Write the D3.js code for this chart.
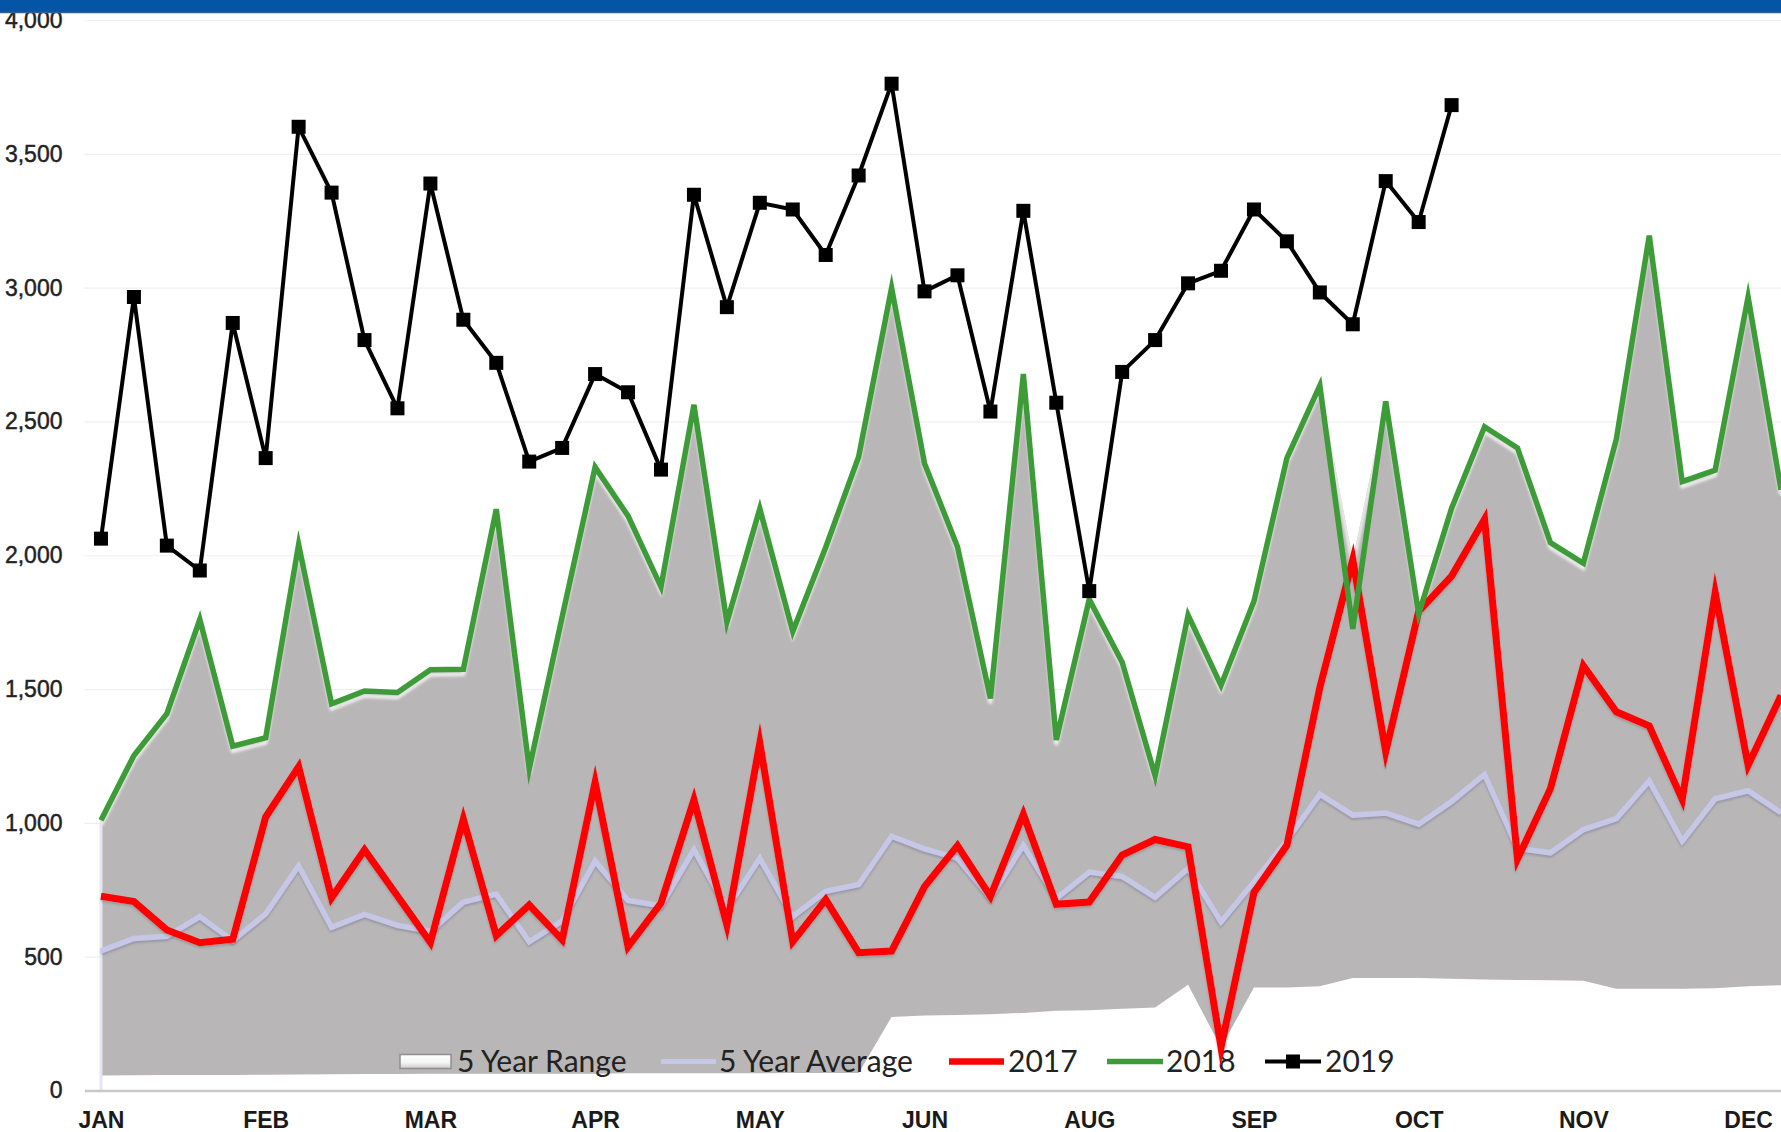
<!DOCTYPE html>
<html>
<head>
<meta charset="utf-8">
<script src="https://cdn.jsdelivr.net/npm/d3@7"></script>
<style>
  html, body { margin: 0; padding: 0; background: #ffffff; overflow: hidden; }
  svg { display: block; }
</style>
</head>
<body>
<script>
// ---------------- DATA ----------------
const weeks = d3.range(52);
const monthTickWeeks = [0, 5, 10, 15, 20, 25, 30, 35, 40, 45, 50];
const monthLabels = ["JAN", "FEB", "MAR", "APR", "MAY", "JUN", "AUG", "SEP", "OCT", "NOV", "DEC"];
const yTicks = [0, 500, 1000, 1500, 2000, 2500, 3000, 3500, 4000];

const rangeLow = [56, 57, 58, 58, 58, 59, 60, 61, 62, 62, 63, 63, 63, 63, 63, 63, 64, 64, 64, 64, 64, 65, 65, 65,
  275, 280, 282, 285, 290, 298, 300, 305, 310, 395, 161, 385, 385, 390, 420, 420, 420, 418, 415, 413, 412, 410,
  380, 380, 380, 382, 390, 393];
const rangeHigh = [1010, 1252, 1408, 1760, 1287, 1318, 2040, 1445, 1493, 1487, 1572, 1574, 2172, 1202, 1770, 2329,
  2147, 1882, 2562, 1750, 2174, 1715, 2030, 2368, 2999, 2343, 2032, 1465, 2677, 1310, 1835, 1600, 1176, 1776, 1514,
  1828, 2363, 2634, 1983, 2575, 1790, 2176, 2480, 2401, 2047, 1970, 2434, 3194, 2275, 2318, 2965, 2245];
const avg5 = [522, 568, 576, 650, 560, 660, 840, 610, 658, 617, 595, 704, 734, 556, 634, 857, 710, 690, 900, 680,
  868, 650, 744, 770, 950, 903, 868, 720, 916, 718, 816, 800, 722, 830, 630, 780, 935, 1107, 1029, 1037, 995, 1080,
  1181, 905, 888, 975, 1016, 1157, 932, 1090, 1120, 1038];
const y2017 = [726, 706, 600, 552, 565, 1022, 1209, 720, 899, 727, 553, 1014, 578, 693, 563, 1151, 537, 700, 1086,
  619, 1298, 556, 713, 515, 521, 762, 915, 725, 1032, 696, 704, 880, 938, 910, 161, 740, 916, 1506, 1983, 1266,
  1790, 1922, 2135, 865, 1128, 1587, 1415, 1362, 1088, 1860, 1215, 1476];
const y2018 = [1010, 1252, 1408, 1760, 1287, 1318, 2040, 1445, 1493, 1487, 1572, 1574, 2172, 1202, 1770, 2329,
  2147, 1882, 2562, 1750, 2174, 1715, 2030, 2368, 2999, 2343, 2032, 1465, 2677, 1310, 1835, 1600, 1176, 1776, 1514,
  1828, 2363, 2634, 1725, 2575, 1780, 2176, 2480, 2401, 2047, 1970, 2434, 3194, 2275, 2318, 2965, 2245];
const y2019 = [2062, 2965, 2036, 1943, 2868, 2363, 3601, 3355, 2804, 2549, 3389, 2880, 2719, 2350, 2401, 2677,
  2609, 2320, 3347, 2927, 3317, 3292, 3122, 3419, 3762, 2986, 3046, 2537, 3287, 2570, 1866, 2685, 2804, 3016, 3063,
  3292, 3173, 2982, 2863, 3398, 3245, 3682];
const legendLabels = ["5 Year Range", "5 Year Average", "2017", "2018", "2019"];

// ---------------- LAYOUT ----------------
const W = 1781, H = 1132;
const plotLeft = 84.5, plotRight = 1797.5, plotBottom = 1090.5, plotTop = 20;

const svg = d3.select("body").append("svg").attr("width", W).attr("height", H);
const defs = svg.append("defs");

const x = d3.scalePoint().domain(weeks).range([plotLeft, plotRight]).padding(0.5);
const y = d3.scaleLinear().domain([0, 4000]).range([plotBottom, plotTop]);

// filters
const blur = defs.append("filter").attr("id", "soft").attr("x", "-5%").attr("y", "-5%").attr("width", "110%").attr("height", "110%");
blur.append("feGaussianBlur").attr("stdDeviation", 1.6);
const shadow = defs.append("filter").attr("id", "lshadow").attr("x", "-5%").attr("y", "-20%").attr("width", "110%").attr("height", "140%");
shadow.append("feDropShadow").attr("dx", 0).attr("dy", 2).attr("stdDeviation", 1.2)
  .attr("flood-color", "#6e6e8a").attr("flood-opacity", 0.45);
const shadowDark = defs.append("filter").attr("id", "dshadow").attr("x", "-5%").attr("y", "-20%").attr("width", "110%").attr("height", "140%");
shadowDark.append("feDropShadow").attr("dx", 0).attr("dy", 2).attr("stdDeviation", 1.2)
  .attr("flood-color", "#555").attr("flood-opacity", 0.3);
const grad = defs.append("linearGradient").attr("id", "swg").attr("x1", 0).attr("y1", 0).attr("x2", 0).attr("y2", 1);
grad.append("stop").attr("offset", "0%").attr("stop-color", "#ffffff");
grad.append("stop").attr("offset", "60%").attr("stop-color", "#f4f4f4");
grad.append("stop").attr("offset", "100%").attr("stop-color", "#c9c9c9");

// gridlines
svg.append("g")
  .attr("transform", `translate(${plotLeft},0)`)
  .call(d3.axisLeft(y).tickValues(yTicks.filter(d => d > 0)).tickSize(-(plotRight - plotLeft)).tickFormat(""))
  .call(g => g.select(".domain").remove())
  .call(g => g.selectAll("line").attr("stroke", "#efefef").attr("stroke-width", 1.2));

// 5 year range band
const areaGen = d3.area().x(i => x(i)).y0(i => y(rangeLow[i])).y1(i => y(rangeHigh[i]));
defs.append("clipPath").attr("id", "bandClip").append("path").attr("d", areaGen(weeks));
svg.append("path").attr("d", areaGen(weeks)).attr("fill", "#b9b6b7");

// bevel-like highlight under the top edge
const topLine = d3.line().x(i => x(i)).y(i => y(rangeHigh[i]));
svg.append("g").attr("clip-path", "url(#bandClip)")
  .append("path").attr("d", topLine(weeks))
  .attr("transform", "translate(0,5)")
  .attr("fill", "none").attr("stroke", "#ffffff").attr("stroke-width", 3.5)
  .attr("opacity", 0.85).attr("filter", "url(#soft)");

// left edge of band
svg.append("line")
  .attr("x1", x(0)).attr("x2", x(0)).attr("y1", y(0)).attr("y2", y(rangeHigh[0]))
  .attr("stroke", "#e6e6f0").attr("stroke-width", 3);

// axes
const yAxis = svg.append("g")
  .attr("transform", `translate(${plotLeft},0)`)
  .call(d3.axisLeft(y).tickValues(yTicks).tickSize(0).tickPadding(22).tickFormat(d3.format(",")));
yAxis.select(".domain").remove();
yAxis.selectAll("text")
  .attr("font-family", "'Liberation Sans', Arial, sans-serif")
  .attr("font-size", 23).attr("fill", "#222")
  .attr("stroke", "#222").attr("stroke-width", 0.45);

const xAxis = svg.append("g")
  .attr("transform", `translate(0,${plotBottom})`)
  .call(d3.axisBottom(x).tickValues(monthTickWeeks).tickSize(0).tickPadding(21)
    .tickFormat(i => monthLabels[monthTickWeeks.indexOf(i)]));
xAxis.select(".domain").attr("stroke", "#c8c8c8").attr("stroke-width", 2.5);
xAxis.selectAll("text")
  .attr("font-family", "'Liberation Sans', Arial, sans-serif")
  .attr("font-weight", "bold")
  .attr("font-size", 23).attr("fill", "#1a1a1a");

// legend (drawn beneath the series lines)
const legendY = 1061.5;
const leg = svg.append("g").attr("font-family", "Lato, 'Open Sans', sans-serif").attr("font-size", 30).attr("fill", "#222");
const legendItems = [
  { sx: 400, ex: 451, tx: 457 },
  { sx: 661, ex: 716, tx: 719 },
  { sx: 949, ex: 1004, tx: 1008 },
  { sx: 1107, ex: 1163, tx: 1166 },
  { sx: 1265, ex: 1321, tx: 1325 }
];
// swatches
leg.append("rect").attr("x", legendItems[0].sx).attr("y", legendY - 7).attr("width", legendItems[0].ex - legendItems[0].sx)
  .attr("height", 14).attr("fill", "url(#swg)").attr("stroke", "#8f8f8f").attr("stroke-width", 1.5);
leg.append("line").attr("x1", legendItems[1].sx).attr("x2", legendItems[1].ex).attr("y1", legendY).attr("y2", legendY)
  .attr("stroke", "#c6c6e6").attr("stroke-width", 5);
leg.append("line").attr("x1", legendItems[2].sx).attr("x2", legendItems[2].ex).attr("y1", legendY).attr("y2", legendY)
  .attr("stroke", "#ff0000").attr("stroke-width", 6.5);
leg.append("line").attr("x1", legendItems[3].sx).attr("x2", legendItems[3].ex).attr("y1", legendY).attr("y2", legendY)
  .attr("stroke", "#3d9c38").attr("stroke-width", 5.5);
leg.append("line").attr("x1", legendItems[4].sx).attr("x2", legendItems[4].ex).attr("y1", legendY).attr("y2", legendY)
  .attr("stroke", "#000").attr("stroke-width", 4);
leg.append("rect").attr("x", (legendItems[4].sx + legendItems[4].ex) / 2 - 7).attr("y", legendY - 7)
  .attr("width", 14).attr("height", 14).attr("fill", "#000");
leg.selectAll("text.lt").data(legendLabels).join("text").attr("class", "lt")
  .attr("x", (d, i) => legendItems[i].tx).attr("y", legendY).attr("dy", "0.36em").text(d => d);

// series lines
const lineGen = arr => d3.line().x((d, i) => x(i)).y(d => y(d))(arr);
svg.append("path").attr("d", lineGen(avg5)).attr("fill", "none").attr("stroke", "#c6c6e6")
  .attr("stroke-width", 5.5).attr("stroke-linejoin", "miter").attr("filter", "url(#lshadow)");
svg.append("path").attr("d", lineGen(y2017)).attr("fill", "none").attr("stroke", "#ff0000")
  .attr("stroke-width", 7).attr("stroke-linejoin", "miter").attr("stroke-miterlimit", 6).attr("filter", "url(#dshadow)");
svg.append("path").attr("d", lineGen(y2018)).attr("fill", "none").attr("stroke", "#3d9c38")
  .attr("stroke-width", 5.5).attr("stroke-linejoin", "miter").attr("stroke-miterlimit", 6);
svg.append("path").attr("d", lineGen(y2019)).attr("fill", "none").attr("stroke", "#000")
  .attr("stroke-width", 4).attr("stroke-linejoin", "round");
svg.append("g").selectAll("rect").data(y2019).join("rect")
  .attr("x", (d, i) => x(i) - 7).attr("y", d => y(d) - 7)
  .attr("width", 14).attr("height", 14).attr("fill", "#000");

// top blue bar
svg.append("rect").attr("x", 0).attr("y", 0).attr("width", W).attr("height", 12.5).attr("fill", "#0455a5");
svg.append("line").attr("x1", 0).attr("x2", W).attr("y1", 12.5).attr("y2", 12.5).attr("stroke", "#3b5f8c").attr("stroke-width", 1.5);
</script>
</body>
</html>
